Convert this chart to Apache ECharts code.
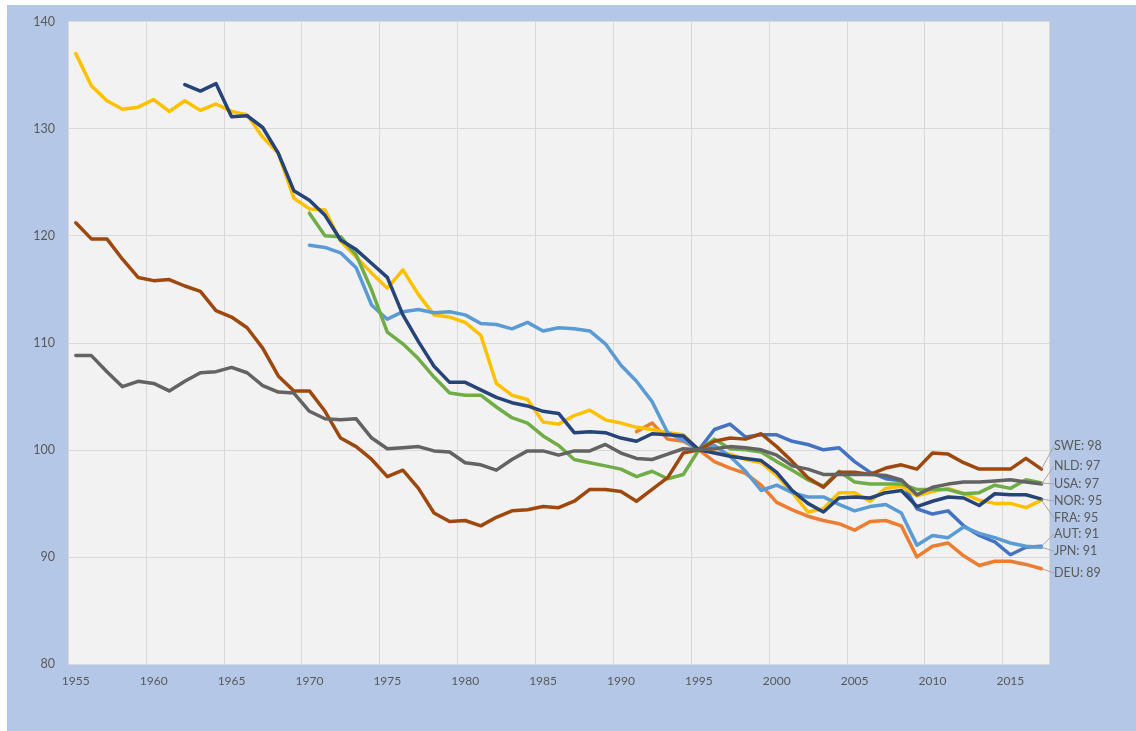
<!DOCTYPE html>
<html>
<head>
<meta charset="utf-8">
<script src="https://cdn.jsdelivr.net/npm/echarts@6/dist/echarts.min.js"></script>
<style>
  html, body { margin: 0; padding: 0; background: #ffffff; }
  #chart { position: absolute; left: 7px; top: 5px; width: 1129px; height: 726px; }
</style>
</head>
<body>
<div id="chart"></div>
<script>
// ---- categories ----
const FIRST_YEAR = 1955;
const LAST_YEAR = 2017;
const years = [];
for (let y = FIRST_YEAR; y <= LAST_YEAR; y++) years.push(String(y));

// ---- y-axis ticks ----
const yMin = 80, yMax = 140, yStep = 10;

// ---- series (index, 1995 = 100); each list starts at its *_START year ----
const AUT_START = 1995;
const AUT = [100.0, 101.9, 102.4, 101.2, 101.4, 101.4, 100.8, 100.5, 100.0, 100.2,
             98.9, 97.9, 97.3, 97.1, 94.5, 94.0, 94.3, 92.9, 92.0, 91.4,
             90.2, 90.9, 91.0];

const DEU_START = 1991;
const DEU = [101.7, 102.5, 101.0, 100.8,
             100.0, 98.9, 98.3, 97.8, 96.7, 95.1, 94.4, 93.8, 93.4, 93.1,
             92.5, 93.3, 93.4, 92.9, 90.0, 91.0, 91.3, 90.1, 89.2, 89.6,
             89.6, 89.3, 88.9];

const FRA_START = 1955;
const FRA = [137.0, 134.0, 132.6, 131.8, 132.0, 132.7, 131.6, 132.6, 131.7, 132.3,
             131.6, 131.3, 129.2, 127.7, 123.5, 122.5, 122.4, 119.5, 118.0, 116.5,
             115.1, 116.8, 114.5, 112.6, 112.4, 111.9, 110.7, 106.2, 105.1, 104.7,
             102.6, 102.4, 103.2, 103.7, 102.8, 102.5, 102.1, 101.9, 101.6, 101.4,
             100.0, 99.8, 99.6, 99.1, 98.8, 97.6, 96.0, 94.2, 94.5, 96.0,
             96.0, 95.2, 96.4, 96.6, 95.7, 96.1, 96.4, 95.9, 95.3, 95.0,
             95.0, 94.6, 95.3];

const JPN_START = 1970;
const JPN = [119.1, 118.9, 118.4, 117.0, 113.5, 112.2, 112.9, 113.1, 112.8, 112.9,
             112.6, 111.8, 111.7, 111.3, 111.9, 111.1, 111.4, 111.3, 111.1, 109.9,
             107.9, 106.4, 104.5, 101.6, 100.9, 100.0, 100.4, 99.4, 98.0, 96.2,
             96.7, 96.0, 95.6, 95.6, 94.9, 94.3, 94.7, 94.9, 94.1, 91.1,
             92.0, 91.8, 92.8, 92.2, 91.8, 91.3, 91.0, 90.9];

const USA_START = 1970;
const USA = [122.1, 120.0, 119.9, 118.2, 114.9, 111.0, 109.9, 108.5, 106.8, 105.3,
             105.1, 105.1, 104.0, 103.0, 102.5, 101.3, 100.4, 99.1, 98.8, 98.5,
             98.2, 97.5, 98.0, 97.3, 97.7, 100.0, 101.0, 100.1, 100.0, 99.8,
             98.9, 98.1, 97.2, 96.6, 98.0, 97.0, 96.8, 96.8, 96.8, 96.3,
             96.3, 96.3, 95.9, 96.0, 96.7, 96.4, 97.2, 96.9];

const NOR_START = 1962;
const NOR = [134.1, 133.5, 134.2, 131.1, 131.2, 130.1, 127.7, 124.2,
             123.3, 121.9, 119.6, 118.7, 117.4, 116.1, 112.6, 110.1, 107.8, 106.3,
             106.3, 105.6, 104.9, 104.4, 104.1, 103.6, 103.4, 101.6, 101.7, 101.6,
             101.1, 100.8, 101.5, 101.4, 101.3, 100.0, 99.7, 99.4, 99.2, 99.0,
             97.9, 96.2, 95.0, 94.2, 95.5, 95.6, 95.5, 96.0, 96.2, 94.7,
             95.2, 95.6, 95.5, 94.8, 95.9, 95.8, 95.8, 95.4];

const SWE_START = 1955;
const SWE = [121.2, 119.7, 119.7, 117.8, 116.1, 115.8, 115.9, 115.3, 114.8, 113.0,
             112.4, 111.4, 109.5, 106.9, 105.5, 105.5, 103.6, 101.1, 100.3, 99.1,
             97.5, 98.1, 96.4, 94.1, 93.3, 93.4, 92.9, 93.7, 94.3, 94.4,
             94.7, 94.6, 95.2, 96.3, 96.3, 96.1, 95.2, 96.3, 97.4, 99.7,
             100.0, 100.8, 101.1, 101.0, 101.5, 100.3, 98.9, 97.4, 96.5, 97.9,
             97.9, 97.7, 98.3, 98.6, 98.2, 99.7, 99.6, 98.8, 98.2, 98.2,
             98.2, 99.2, 98.2];

const NLD_START = 1955;
const NLD = [108.8, 108.8, 107.3, 105.9, 106.4, 106.2, 105.5, 106.4, 107.2, 107.3,
             107.7, 107.2, 106.0, 105.4, 105.3, 103.6, 102.9, 102.8, 102.9, 101.1,
             100.1, 100.2, 100.3, 99.9, 99.8, 98.8, 98.6, 98.1, 99.1, 99.9,
             99.9, 99.5, 99.9, 99.9, 100.5, 99.7, 99.2, 99.1, 99.6, 100.1,
             100.0, 100.1, 100.3, 100.2, 100.0, 99.5, 98.5, 98.2, 97.7, 97.7,
             97.7, 97.7, 97.6, 97.2, 95.8, 96.5, 96.8, 97.0, 97.0, 97.1,
             97.2, 97.0, 96.8];

// ---- series list (drawing order: later ones on top) ----
const seriesNames = ['AUT', 'DEU', 'FRA', 'JPN', 'USA', 'NOR', 'SWE', 'NLD'];
const seriesData  = [AUT, DEU, FRA, JPN, USA, NOR, SWE, NLD];
const seriesStart = [AUT_START, DEU_START, FRA_START, JPN_START, USA_START, NOR_START, SWE_START, NLD_START];

// ---- styles / layout (not data) ----
const seriesColors = {
  AUT: '#4472C4', DEU: '#ED7D31', FRA: '#FFC000', JPN: '#5B9BD5',
  USA: '#70AD47', NOR: '#264478', SWE: '#9E480E', NLD: '#636363'
};
// vertical position (px, inside the chart box) of each end label
const endLabelY = {
  SWE: 441, NLD: 461, USA: 479, NOR: 496, FRA: 513, AUT: 529, JPN: 546, DEU: 568
};
const endLabelX = 1047;
const FONT = 'Lato, "Liberation Sans", sans-serif';

function padSeries(values, start) {
  const out = [];
  for (let i = 0; i < years.length; i++) {
    const k = (FIRST_YEAR + i) - start;
    out.push(k >= 0 && k < values.length ? values[k] : null);
  }
  return out;
}

const series = seriesNames.map((name, si) => {
  const full = padSeries(seriesData[si], seriesStart[si]);
  const lastIdx = full.length - 1;
  const lastVal = full[lastIdx];
  const data = full.map((v, i) => {
    if (i !== lastIdx) return v;
    return {
      value: v,
      label: {
        show: true,
        formatter: name + ': ' + Math.round(lastVal)
      }
    };
  });
  return {
    name: name,
    type: 'line',
    data: data,
    connectNulls: false,
    showSymbol: true,
    showAllSymbol: true,
    symbol: 'circle',
    symbolSize: 0,
    silent: true,
    emphasis: { disabled: true },
    lineStyle: { color: seriesColors[name], width: 3.5, cap: 'round', join: 'round' },
    itemStyle: { color: seriesColors[name] },
    label: {
      show: false,
      color: '#595959',
      fontFamily: FONT,
      fontSize: 12.5,
      padding: 0
    },
    labelLine: {
      show: true,
      length2: 6,
      lineStyle: { color: '#A6A6A6', width: 1 }
    },
    labelLayout: function () {
      return { x: endLabelX, y: endLabelY[name], align: 'left', verticalAlign: 'middle' };
    }
  };
});

const chart = echarts.init(document.getElementById('chart'), null, { renderer: 'canvas' });
chart.setOption({
  animation: false,
  backgroundColor: '#B4C7E7',
  textStyle: { fontFamily: FONT },
  grid: {
    left: 61, right: 86.7, top: 16.5, bottom: 67,
    show: true, backgroundColor: '#F2F2F2', borderWidth: 0
  },
  xAxis: {
    type: 'category',
    data: years,
    boundaryGap: true,
    axisLine: { show: true, lineStyle: { color: '#D9D9D9', width: 1 } },
    axisTick: { show: false, interval: 4 },
    axisLabel: { interval: 4, color: '#595959', fontSize: 12, margin: 11, fontFamily: FONT },
    splitLine: { show: true, interval: 4, lineStyle: { color: '#D9D9D9', width: 1 } }
  },
  yAxis: {
    type: 'value',
    min: yMin, max: yMax, interval: yStep,
    axisLine: { show: false },
    axisTick: { show: false },
    axisLabel: { color: '#595959', fontSize: 12.5, margin: 13, fontFamily: FONT },
    splitLine: { show: true, lineStyle: { color: '#D9D9D9', width: 1 } }
  },
  series: series
});
</script>
</body>
</html>
